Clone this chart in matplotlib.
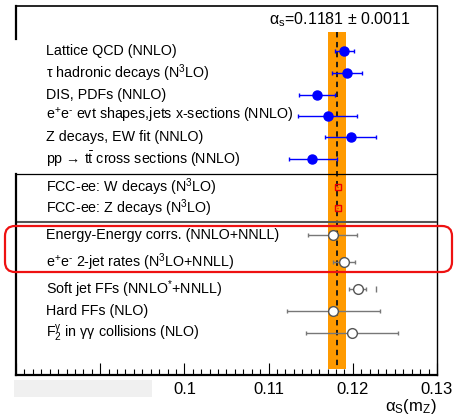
# -*- coding: utf-8 -*-
# alpha_s(mZ) summary plot

import numpy as np
import matplotlib
matplotlib.use('Agg')
import matplotlib.pyplot as plt
from matplotlib.patches import FancyBboxPatch, Rectangle
from matplotlib.transforms import IdentityTransform, blended_transform_factory

plt.rcParams['font.family'] = ['Liberation Sans', 'DejaVu Sans']
plt.rcParams['mathtext.fontset'] = 'custom'
plt.rcParams['mathtext.rm'] = 'Liberation Sans'
plt.rcParams['mathtext.it'] = 'Liberation Serif:italic'
plt.rcParams['mathtext.default'] = 'regular'

# world average
as_avg = 0.1181
as_err = 0.0011

# current extractions (blue)
world_labels = ['Lattice QCD (NNLO)',
                r'τ hadronic decays (N$^{3}$LO)',
                'DIS, PDFs (NNLO)',
                r'e$^{+}$e$^{‐}$ evt shapes,jets x-sections (NNLO)',
                'Z decays, EW fit (NNLO)',
                r'pp → t$\bar{t}$ cross sections (NNLO)']
world_val = [0.11895, 0.1193, 0.11575, 0.11705, 0.11975, 0.1152]
world_lo = [0.0011, 0.0018, 0.0021, 0.0035, 0.0030, 0.0028]
world_hi = [0.0012, 0.0018, 0.0021, 0.0035, 0.0030, 0.0029]

# FCC-ee projections (red)
fcc_labels = [r'FCC-ee: W decays (N$^{3}$LO)',
              r'FCC-ee: Z decays (N$^{3}$LO)']
fcc_val = [0.1182, 0.1182]
fcc_err = [0.0001, 0.0001]

# other extractions (open circles)
new_labels = ['Energy-Energy corrs. (NNLO+NNLL)',
              r'e$^{+}$e$^{‐}$ 2-jet rates (N$^{3}$LO+NNLL)',
              r'Soft jet FFs (NNLO$^{*}$+NNLL)',
              'Hard FFs (NLO)',
              r'F$_{2}^{γ}$ in γγ collisions (NLO)']
new_val = [0.1176, 0.1189, 0.1206, 0.1177, 0.1199]
new_lo = [0.0029, 0.0013, 0.0010, 0.0055, 0.0055]
new_hi = [0.0029, 0.0014, 0.0010, 0.0055, 0.0055]
soft_extra = [0.1228]

tick_vals = [0.08, 0.09, 0.10, 0.11, 0.12, 0.13]
tick_labels = ['', '', '0.1', '0.11', '0.12', '0.13']

# layout (rows, measured from top)
y_world = [51, 73, 95, 116, 137, 159]
y_fcc = [187, 208]
y_new = [235, 262, 289, 311, 333]

fig = plt.figure(figsize=(4.6, 4.2), dpi=100)
ax = fig.add_axes([16/460, 1-375/420, 421/460, 369/420])
ax.set_xlim(0.08, 0.13)
ax.set_ylim(375, 6)

# band + central value
ax.add_patch(Rectangle((as_avg-as_err, 32), 2*as_err, 337, facecolor='#ff9a00',
                       edgecolor='none', zorder=1))
ax.plot([as_avg, as_avg], [32, 369], color='#111111', lw=1.3, ls=(0, (3, 2.5)), zorder=2)

ax.errorbar(world_val, y_world, xerr=[world_lo, world_hi], fmt='o', color='#0000ff',
            ms=6.5, elinewidth=1.0, capsize=1.5, capthick=1.0, zorder=4)
ax.errorbar(fcc_val, y_fcc, xerr=fcc_err, fmt='s', mfc='none', mec='#ee0000',
            ecolor='#ee0000', ms=4.5, mew=1.0, elinewidth=1.0, zorder=4)
ax.errorbar(new_val, y_new, xerr=[new_lo, new_hi], fmt='o', mfc='white', mec='#555555',
            ecolor='#777777', ms=7, mew=1.0, elinewidth=1.0, capsize=1.5, zorder=4)
ax.plot(soft_extra, [y_new[2]], marker='|', color='#777777', ms=4, mew=1.0, zorder=4)

# labels
tr = blended_transform_factory(ax.transAxes, ax.transData)
for lab, y in zip(world_labels + fcc_labels + new_labels, y_world + y_fcc + y_new):
    ax.text(30/421, y, lab, transform=tr, fontsize=10.3, va='center', ha='left')

# separators
ax.plot([0.08, 0.13], [174, 174], color='black', lw=0.9, zorder=3)
ax.plot([0.08, 0.13], [222, 222], color='#555555', lw=1.5, zorder=3)

ax.text(0.1184, 20, r'$\alpha_{s}$=0.1181 ± 0.0011', fontsize=11.5, ha='center', va='center')

# frame
for s in ['left', 'bottom']:
    ax.spines[s].set_visible(False)
ax.spines['top'].set_linewidth(1.2)
ax.spines['right'].set_linewidth(1.0)
ax.plot([0.08, 0.08], [6, 39], color='black', lw=1.6, clip_on=False, zorder=5)
ax.plot([0.08, 0.08], [174, 375], color='black', lw=1.6, clip_on=False, zorder=5)
ax.plot([0.08, 0.13], [375, 375], color='black', lw=1.6, clip_on=False, zorder=5)

ax.set_xticks(tick_vals)
ax.set_xticklabels(tick_labels)
ax.set_xticks(np.arange(0.08, 0.1301, 0.001), minor=True)
ax.tick_params(axis='x', which='major', direction='in', length=9, width=0.8, labelsize=12, pad=5)
ax.tick_params(axis='x', which='minor', direction='in', length=4.5, width=0.8)
ax.set_yticks([])
ax.set_xlabel(r'$\alpha_{S}$(m$_{Z}$)', fontsize=12, loc='right', labelpad=0)

# grey box over the first labels
fig.patches.append(Rectangle((14, 420-397), 138, 17, transform=IdentityTransform(),
                             facecolor='#f0f0f0', edgecolor='none', zorder=10, figure=fig))

# red highlight box
fig.patches.append(FancyBboxPatch((5, 420-272), 447, 46,
                                  boxstyle='round,pad=0,rounding_size=10',
                                  transform=IdentityTransform(), facecolor='none',
                                  edgecolor='#ee1111', lw=1.6, zorder=10, figure=fig))

fig.savefig('out.png', dpi=100)
